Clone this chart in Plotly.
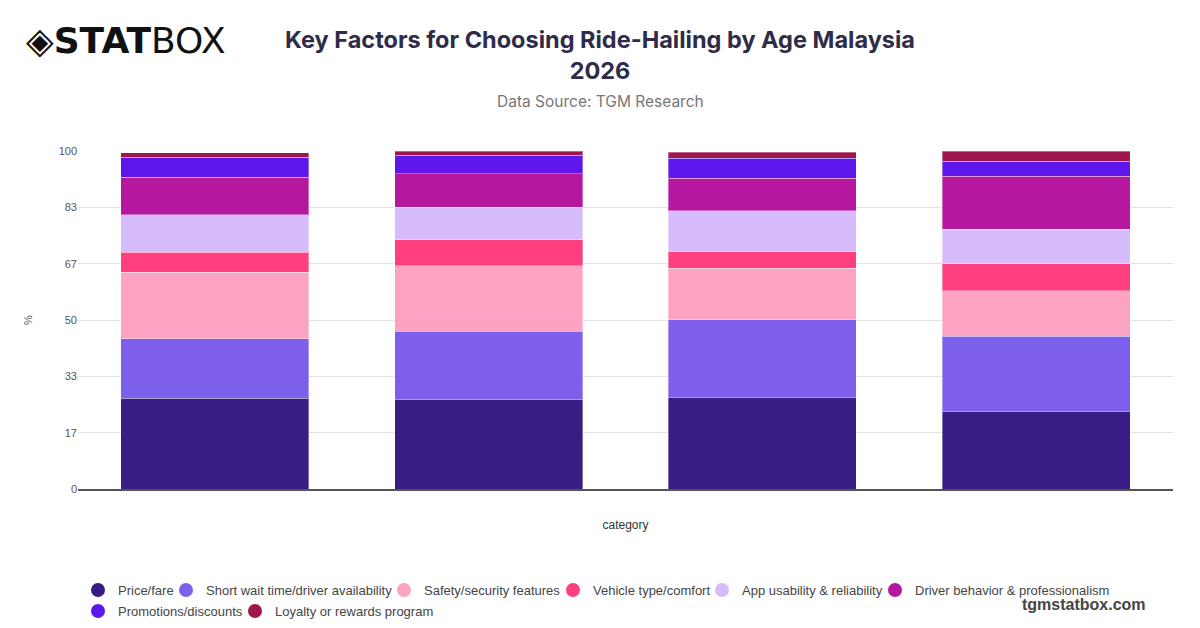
import plotly.graph_objects as go

# age groups (the reference hides the tick labels)
categories = ["18-24", "25-34", "35-44", "45+"]

factors = [
    "Price/fare",
    "Short wait time/driver availability",
    "Safety/security features",
    "Vehicle type/comfort",
    "App usability & reliability",
    "Driver behavior & professionalism",
    "Promotions/discounts",
    "Loyalty or rewards program",
]

price = [26.8, 26.5, 27.1, 22.8]
short_wait = [17.7, 20.1, 23.0, 22.4]
safety = [19.7, 19.4, 15.2, 13.4]
vehicle = [5.9, 7.7, 4.9, 8.0]
app = [11.1, 9.6, 12.1, 10.3]
driver = [11.1, 9.9, 9.7, 15.7]
promos = [5.8, 5.5, 5.8, 4.4]
loyalty = [1.4, 1.3, 1.8, 3.0]

series = [price, short_wait, safety, vehicle, app, driver, promos, loyalty]

colors = ["#381E84", "#7E5FEB", "#FCA2C3", "#FF3F80",
          "#D6BCFA", "#B5179E", "#5E17EB", "#9D174D"]

ytick_vals = [0, 100 / 6, 200 / 6, 50, 400 / 6, 500 / 6, 100]
ytick_text = ["0", "17", "33", "50", "67", "83", "100"]

# plot area on screen, in pixels
PL, PR, PT, PB = 78, 1173, 151, 490
PW, PH = PR - PL, PB - PT


def px(x):
    return (x - PL) / PW


def py(y):
    return (PB - y) / PH


# where each legend marker sits (x, y in screen pixels), one legend per entry
legend_spots = [(99, 590), (187, 590), (405, 590), (574, 590), (723, 590), (896, 590),
                (99, 611), (256, 611)]

fig = go.Figure()

for name, vals, col in zip(factors, series, colors):
    fig.add_trace(
        go.Bar(
            x=categories,
            y=vals,
            name=name,
            marker=dict(color=col, line=dict(width=1, color="rgba(255,255,255,0.35)")),
            showlegend=False,
        )
    )

legend_layout = {}
for i, (name, col) in enumerate(zip(factors, colors)):
    key = "legend" if i == 0 else f"legend{i + 1}"
    fig.add_trace(
        go.Scatter(
            x=[None], y=[None], mode="markers", name=name,
            marker=dict(symbol="circle", size=14, color=col),
            legend=key,
        )
    )
    lx, ly = legend_spots[i]
    legend_layout[key] = dict(
        orientation="h",
        x=px(lx - 21),
        xanchor="left",
        y=py(ly),
        yanchor="middle",
        font=dict(size=13, color="#444", family="Liberation Sans, Arial, sans-serif"),
        itemwidth=30,
        bgcolor="rgba(0,0,0,0)",
    )

fig.update_layout(
    width=1200,
    height=628,
    template="none",
    barmode="stack",
    bargap=0.314,
    plot_bgcolor="white",
    paper_bgcolor="white",
    font=dict(family="Liberation Sans, Arial, sans-serif", color="#444"),
    margin=dict(l=70, r=35, t=143, b=146),
    title=dict(
        text="<b>Key Factors for Choosing Ride-Hailing by Age Malaysia<br>2026</b>",
        x=(600 - 8) / 1200,
        xanchor="center",
        y=0.936,
        yanchor="top",
        font=dict(size=23.5, color="#2E2C48", family="Inter, Roboto, sans-serif"),
    ),
    xaxis=dict(
        title=dict(text="category", font=dict(size=12, color="#333"), standoff=31),
        showticklabels=False,
        showgrid=False,
        showline=True,
        linecolor="#555",
        linewidth=1.5,
        ticks="",
    ),
    yaxis=dict(
        title=dict(text="%", font=dict(size=11, color="#555"), standoff=23),
        range=[0, 100],
        tickmode="array",
        tickvals=ytick_vals,
        ticktext=ytick_text,
        tickfont=dict(size=11, color="#555"),
        ticks="",
        showgrid=True,
        gridcolor="#e2e2e2",
        gridwidth=1,
        zeroline=False,
        showline=False,
    ),
    **legend_layout,
)

fig.add_annotation(
    text="Data Source: TGM Research",
    xref="paper", yref="paper",
    x=px(600), y=py(101),
    xanchor="center", yanchor="middle",
    showarrow=False, font=dict(size=15.5, color="#777", family="Inter, Roboto, sans-serif"),
)

fig.add_annotation(
    text="◈<b>STAT</b>BOX",
    xref="paper", yref="paper",
    x=px(24), y=py(40),
    xanchor="left", yanchor="middle",
    showarrow=False, font=dict(size=36, color="#111", family="DejaVu Sans"),
)

fig.add_annotation(
    text="<b>tgmstatbox.com</b>",
    xref="paper", yref="paper",
    x=px(1148), y=py(606),
    xanchor="right", yanchor="middle",
    showarrow=False, font=dict(size=16, color="#444", family="Liberation Sans, Arial, sans-serif"),
)

fig.write_html("out.html")
